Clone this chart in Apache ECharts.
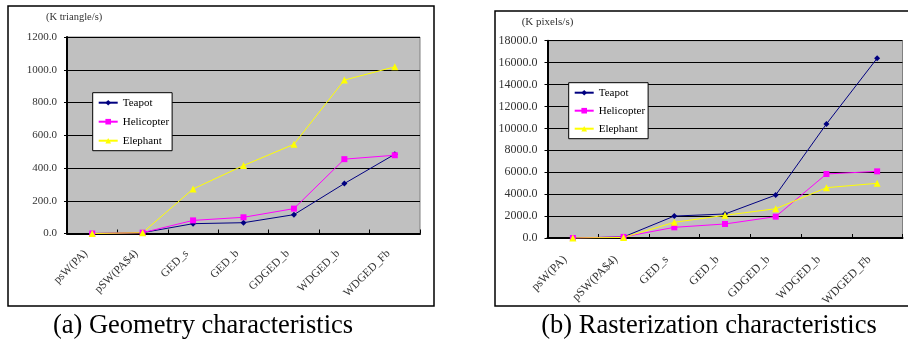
<!DOCTYPE html>
<html><head><meta charset="utf-8">
<script src="https://cdn.jsdelivr.net/npm/echarts@6/dist/echarts.min.js"></script>
<style>html,body{margin:0;padding:0;background:#fff}#c{width:908px;height:342px}</style>
</head><body><div id="c"></div>
<script>
const categories = ['psW(PA)', 'pSW(PA$4)', 'GED_s', 'GED_b', 'GDGED_b', 'WDGED_b', 'WDGED_Fb'];
const seriesNames = ['Teapot', 'Helicopter', 'Elephant'];
// (a) Geometry characteristics, K triangle/s
const geoTeapot = [0, 5, 60, 66, 115, 305, 484];
const geoHelicopter = [0, 5, 80, 99, 152, 454, 478];
const geoElephant = [0, 5, 272, 415, 545, 937, 1018];
// (b) Rasterization characteristics, K pixels/s
const rasTeapot = [0, 100, 2000, 2190, 3920, 10400, 16400];
const rasHelicopter = [0, 100, 975, 1280, 1950, 5840, 6080];
const rasElephant = [0, 50, 1430, 2070, 2670, 4590, 4990];
const geoTicks = { min: 0, max: 1200, interval: 200 };
const rasTicks = { min: 0, max: 18000, interval: 2000 };

const SERIF = '"Liberation Serif","Times New Roman",serif';
const colors = ['#000080', '#FF00FF', '#FFFF00'];
const symbols = ['diamond', 'rect', 'triangle'];
const symSizes = [6, 6, 7];

const chart = echarts.init(document.getElementById('c'), null, { renderer: 'canvas' });

function xAxis(gi, fs, pad) {
  return {
    type: 'category', gridIndex: gi, data: categories, boundaryGap: true,
    axisLine: { lineStyle: { color: '#000', width: 2 } },
    axisTick: { show: true, inside: true, length: 4, lineStyle: { color: '#000' } },
    axisLabel: { rotate: 45, margin: 12, padding: [0, pad, 0, 0], fontFamily: SERIF, fontSize: fs, color: '#333', interval: 0 }
  };
}
function yAxis(gi, t, fs) {
  return {
    type: 'value', gridIndex: gi, min: t.min, max: t.max, interval: t.interval,
    axisLine: { show: true, lineStyle: { color: '#000', width: 2 } },
    axisTick: { show: true, length: 3, lineStyle: { color: '#000' } },
    splitLine: { show: true, lineStyle: { color: '#000', width: 1 } },
    axisLabel: { fontFamily: SERIF, fontSize: fs, color: '#333', margin: 10, formatter: v => v.toFixed(1) }
  };
}
function mkSeries(gi, arrs) {
  return arrs.map((d, i) => ({
    name: seriesNames[i], type: 'line', xAxisIndex: gi, yAxisIndex: gi, data: d,
    symbol: symbols[i], symbolSize: symSizes[i], showSymbol: true,
    lineStyle: { color: colors[i], width: 1 }, itemStyle: { color: colors[i] },
    emphasis: { disabled: true }, animation: false
  }));
}
function legend(left, top, gap) {
  return {
    orient: 'vertical', left: left, top: top, data: seriesNames,
    backgroundColor: '#fff', borderColor: '#000', borderWidth: 1, borderRadius: 0,
    padding: [3, 3, 3, 5], itemGap: gap, itemWidth: 19, itemHeight: 7,
    textStyle: { fontFamily: SERIF, fontSize: 11, color: '#000', lineHeight: 14 },
    selectedMode: false
  };
}

chart.setOption({
  animation: false,
  grid: [
    { left: 67, right: 908 - 420, top: 37, bottom: 342 - 233.5, show: true, backgroundColor: '#C0C0C0', borderColor: '#808080', borderWidth: 1 },
    { left: 547.5, right: 908 - 902.5, top: 40.7, bottom: 342 - 238, show: true, backgroundColor: '#C0C0C0', borderColor: '#808080', borderWidth: 1 }
  ],
  xAxis: [xAxis(0, 11.5, 9), xAxis(1, 12, 11)],
  yAxis: [yAxis(0, geoTicks, 11), yAxis(1, rasTicks, 12)],
  legend: [legend(92.7, 92.7, 5), legend(568.7, 82.7, 4)],
  series: [].concat(
    mkSeries(0, [geoTeapot, geoHelicopter, geoElephant]),
    mkSeries(1, [rasTeapot, rasHelicopter, rasElephant])
  ),
  graphic: [
    { type: 'rect', shape: { x: 8, y: 6, width: 426, height: 300 }, style: { fill: 'none', stroke: '#000', lineWidth: 1.5 }, z: -1 },
    { type: 'rect', shape: { x: 495, y: 11, width: 430, height: 295 }, style: { fill: 'none', stroke: '#000', lineWidth: 1.5 }, z: -1 },
    { type: 'text', left: 46, top: 12, style: { text: '(K triangle/s)', font: '10.5px ' + SERIF, fill: '#333' } },
    { type: 'text', left: 521.7, top: 17, style: { text: '(K pixels/s)', font: '11px ' + SERIF, fill: '#333' } },
    { type: 'text', x: 203, y: 326.5, style: { text: '(a) Geometry characteristics', font: '26.5px ' + SERIF, fill: '#000', align: 'center', verticalAlign: 'middle' } },
    { type: 'text', x: 709, y: 326.5, style: { text: '(b) Rasterization characteristics', font: '26.5px ' + SERIF, fill: '#000', align: 'center', verticalAlign: 'middle' } }
  ]
});
</script></body></html>
